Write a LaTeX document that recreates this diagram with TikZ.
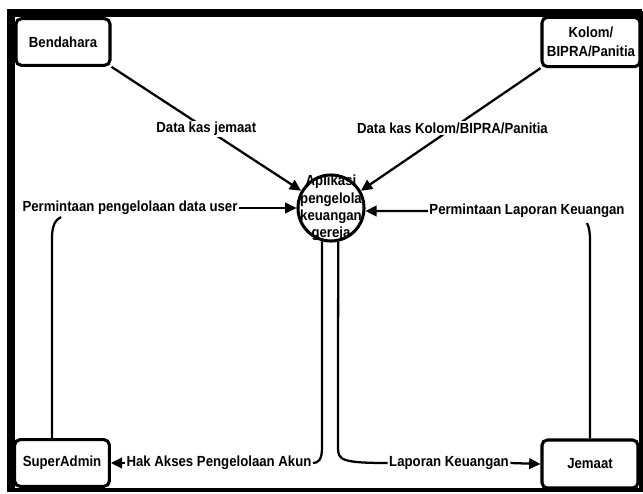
\documentclass[tikz,border=0pt]{standalone}
\usepackage{fontspec}
\setmainfont{Liberation Sans}[FakeStretch=0.9]
\usetikzlibrary{arrows.meta}

\begin{document}
\begin{tikzpicture}[x=0.75pt,y=0.75pt,yscale=-1,xscale=1,
  font=\bfseries\fontsize{11}{13}\selectfont,
  entity/.style={draw,line width=2.3pt,rounded corners=4pt,align=center,inner sep=1pt},
  flow/.style={line width=1.7pt},
  flowarr/.style={flow,-{Triangle[length=8.5pt,width=8pt]}},
  lbl/.style={fill=white,inner sep=1pt}]
\useasboundingbox (0,0) rectangle (643,493);

%Frame
\draw [line width=2.5pt] (11,13) rectangle (641,490);
\draw [line width=6pt] (11,492) -- (11,13) -- (642,13);

% Entities
\node [entity,minimum width=70.5pt,minimum height=35pt] (bend) at (63,42) {Bendahara};
\node [entity,minimum width=73.5pt,minimum height=37pt] (kolom) at (591,42) {Kolom/\\[1pt]BIPRA/Panitia};
\node [entity,minimum width=71pt,minimum height=35pt] (sa) at (62,463) {SuperAdmin};
\node [entity,minimum width=72pt,minimum height=36pt] (jem) at (590,464) {Jemaat};

% Process
\node [circle,draw,line width=2.3pt,minimum size=49.5pt] (proc) at (331,208) {};
\node [align=center,inner sep=0pt] (procText) at (proc) {Aplikasi\\pengelola\\keuangan\\gereja};

% Flows in
\draw [flowarr] (bend.south east) -- node [lbl,pos=0.5] (lKas) {Data kas jemaat} (proc.150);
\draw [flowarr] (kolom.south west) -- node [lbl,pos=0.49] (lKolom) {Data kas Kolom/BIPRA/Panitia} (proc.30);

% Text Node
\node [lbl] (reqUser) at (130,208) {Permintaan pengelolaan data user};
\draw [flowarr] (reqUser.east) -- (proc.west);
\draw [flow] ([xshift=-7.5pt]sa.north) -- (52,238) .. controls (52,226) and (55,220) .. (61,217);

% Text Node
\node [lbl] (reqLap) at (527,211) {Permintaan Laporan Keuangan};
\draw [flowarr] (reqLap.west) -- (proc.-5);
\draw [flow] (jem.north) -- (590,240) .. controls (590,232) and (589,227) .. (587,223);

% Flows out
\node [lbl] (akses) at (219,463) {Hak Akses Pengelolaan Akun};
\draw [flow] (proc.-105) -- (322,448) .. controls (322,460) and (318,463) .. (akses.east);
\draw [flowarr] (akses.west) -- (sa.east);
\node [lbl] (lapKeu) at (449,463) {Laporan Keuangan};
\draw [flow] (proc.-78) -- (338,448) .. controls (338,460) and (342,463) .. (lapKeu.west);
\draw [flowarr] (lapKeu.east) -- (jem.west);

\end{tikzpicture}
\end{document}
